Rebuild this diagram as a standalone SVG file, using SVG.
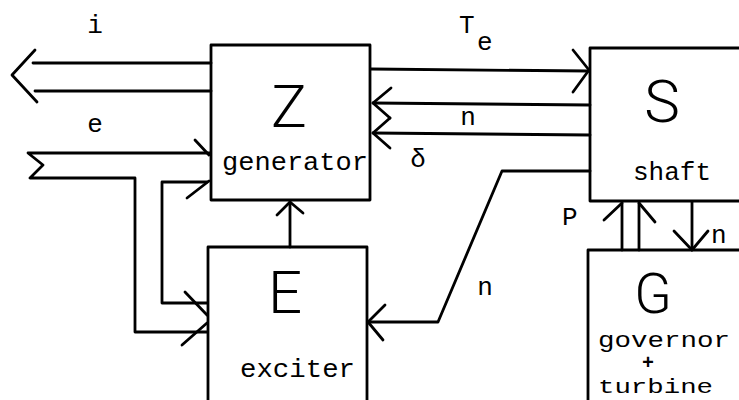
<svg xmlns="http://www.w3.org/2000/svg" width="739" height="400" viewBox="0 0 739 400">
<style>
.ln{fill:none;stroke:#000;stroke-width:2.8;stroke-linecap:round;stroke-linejoin:round}
.big{font-family:Roboto,"Liberation Sans",sans-serif;font-weight:300;font-size:60px;fill:#000;text-anchor:middle}
.t{font-family:"Liberation Mono","DejaVu Sans Mono",monospace;font-size:26px;fill:#000}
.c{text-anchor:middle}
</style>
<rect width="739" height="400" fill="#fff"/>
<g id="Z">
<path class="ln" d="M211,200 V45 H370 V200 H211"/>
<text class="big" x="289" y="127">Z</text>
<text class="t" x="222" y="170" textLength="146" lengthAdjust="spacingAndGlyphs">generator</text>
</g>
<g id="S">
<path class="ln" d="M739,48 H590 V201 H739"/>
<text class="big" x="662" y="122">S</text>
<text class="t c" x="672" y="180">shaft</text>
</g>
<g id="E">
<path class="ln" d="M208,400 V247 H367 V400"/>
<text class="big" x="285" y="313">E</text>
<text class="t" x="240" y="377" textLength="115" lengthAdjust="spacingAndGlyphs">exciter</text>
</g>
<g id="G">
<path class="ln" d="M588,400 V250 H739"/>
<text class="big" x="653" y="313" style="font-size:55px">G</text>
<text class="t" style="font-size:22px"><tspan x="598" y="347" textLength="132" lengthAdjust="spacingAndGlyphs">governor</tspan><tspan x="642" y="369" style="font-size:20px;font-weight:bold">+</tspan><tspan x="598" y="393" style="font-size:21px" textLength="115" lengthAdjust="spacingAndGlyphs">turbine</tspan></text>
</g>
<g id="connectors">
<!-- i output -->
<polyline class="ln" points="211,63 33,63"/>
<polyline class="ln" points="211,91 35,91"/>
<polyline class="ln" points="35,50 12,75 37,102"/>
<!-- e input -->
<polyline class="ln" points="210,153 28,153 43,165 30,178 135,178 135,332 207,332"/>
<polyline class="ln" points="207,182 162,182 162,303 207,303"/>
<polyline class="ln" points="195,140 209,155"/>
<polyline class="ln" points="187,198 209,181"/>
<polyline class="ln" points="185,292 207,315"/>
<polyline class="ln" points="182,345 207,323"/>
<!-- E to Z -->
<polyline class="ln" points="290,247 290,202"/>
<polyline class="ln" points="277,215 290,202 303,213"/>
<!-- Te -->
<polyline class="ln" points="371,69 589,71"/>
<polyline class="ln" points="573,50 589,70 573,92"/>
<!-- n -->
<polyline class="ln" points="590,105 373,103"/>
<polyline class="ln" points="391,88 373,103 390,118"/>
<!-- delta -->
<polyline class="ln" points="590,135 373,133"/>
<polyline class="ln" points="390,118 373,133 390,148"/>
<!-- n to exciter -->
<polyline class="ln" points="590,171 502,171 438,322 368,322"/>
<polyline class="ln" points="385,305 368,322 383,340"/>
<!-- P -->
<polyline class="ln" points="622,250 622,203"/>
<polyline class="ln" points="639,250 639,203"/>
<polyline class="ln" points="604,220 622,203"/>
<polyline class="ln" points="639,203 655,222"/>
<!-- n down -->
<polyline class="ln" points="692,202 692,250"/>
<polyline class="ln" points="674,231 692,250 708,231"/>
</g>
<g id="labels">
<text class="t c" x="95" y="33">i</text>
<text class="t c" x="95" y="132">e</text>
<text class="t" x="459" y="33">T</text>
<text class="t" x="477" y="50">e</text>
<text class="t c" x="468" y="125">n</text>
<text class="t c" x="418" y="167">δ</text>
<text class="t c" x="485" y="295">n</text>
<text class="t" x="562" y="225">P</text>
<text class="t" x="711" y="243">n</text>
</g>
</svg>
